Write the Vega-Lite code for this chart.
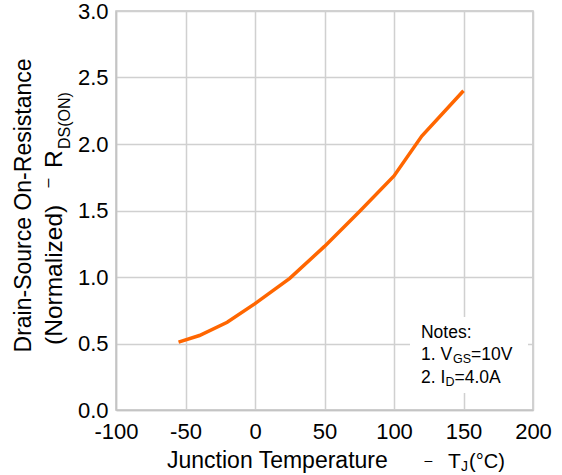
{
  "$schema": "https://vega.github.io/schema/vega-lite/v6.json",
  "autosize": {"type": "none"},
  "padding": {"left": 116, "top": 11, "right": 29, "bottom": 65},
  "width": 417,
  "height": 399,
  "background": "white",
  "view": {"stroke": "#c4c4c4", "strokeWidth": 1.5},
  "config": {
    "font": "Liberation Sans",
    "axis": {
      "grid": true,
      "gridColor": "#d0d0d0",
      "gridWidth": 1.5,
      "domainColor": "#c4c4c4",
      "domainWidth": 1.5,
      "ticks": false,
      "labelFont": "Liberation Sans",
      "labelFontSize": 22,
      "labelColor": "#000000",
      "title": null
    }
  },
  "data": {"values": [{}]},
  "layer": [
    {
      "mark": {"type": "rect", "color": "white"},
      "encoding": {
        "x": {"datum": 111.5, "type": "quantitative", "scale": {"domain": [-100, 200], "nice": false}, "axis": {"values": [-100, -50, 0, 50, 100, 150, 200], "labelPadding": 11, "labelFlush": false, "labelOverlap": false, "labelExpr": "replace(datum.label, '−', '-')"}},
        "x2": {"datum": 196.4},
        "y": {"datum": 0.699, "type": "quantitative", "scale": {"domain": [0, 3], "nice": false}, "axis": {"values": [0, 0.5, 1, 1.5, 2, 2.5, 3], "format": ".1f", "labelPadding": 8, "labelFlush": false, "labelOverlap": false}},
        "y2": {"datum": 0.128}
      }
    },
    {
      "data": {"values": [
        {"temp": -55, "rdson": 0.51},
        {"temp": -40, "rdson": 0.56},
        {"temp": -20, "rdson": 0.66},
        {"temp": 0, "rdson": 0.80},
        {"temp": 25, "rdson": 0.99},
        {"temp": 50, "rdson": 1.23},
        {"temp": 75, "rdson": 1.49},
        {"temp": 100, "rdson": 1.76},
        {"temp": 120, "rdson": 2.06},
        {"temp": 150, "rdson": 2.40}
      ]},
      "mark": {"type": "line", "color": "#ff6600", "strokeWidth": 3.5},
      "encoding": {
        "x": {"field": "temp", "type": "quantitative"},
        "y": {"field": "rdson", "type": "quantitative"}
      }
    },
    {
      "mark": {"type": "text", "text": "Notes:", "fontSize": 17.5, "align": "left", "baseline": "alphabetic"},
      "encoding": {"x": {"datum": 119.4}, "y": {"datum": 0.545}}
    },
    {
      "mark": {"type": "text", "text": "1. V", "fontSize": 17.5, "align": "left", "baseline": "alphabetic"},
      "encoding": {"x": {"datum": 119.4}, "y": {"datum": 0.376}}
    },
    {
      "mark": {"type": "text", "text": "GS", "fontSize": 12.5, "align": "left", "baseline": "alphabetic"},
      "encoding": {"x": {"datum": 142.4}, "y": {"datum": 0.353}}
    },
    {
      "mark": {"type": "text", "text": "=10V", "fontSize": 17.5, "align": "left", "baseline": "alphabetic"},
      "encoding": {"x": {"datum": 155.4}, "y": {"datum": 0.376}}
    },
    {
      "mark": {"type": "text", "text": "2. I", "fontSize": 17.5, "align": "left", "baseline": "alphabetic"},
      "encoding": {"x": {"datum": 119.4}, "y": {"datum": 0.203}}
    },
    {
      "mark": {"type": "text", "text": "D", "fontSize": 12.5, "align": "left", "baseline": "alphabetic"},
      "encoding": {"x": {"datum": 137.0}, "y": {"datum": 0.18}}
    },
    {
      "mark": {"type": "text", "text": "=4.0A", "fontSize": 17.5, "align": "left", "baseline": "alphabetic"},
      "encoding": {"x": {"datum": 143.5}, "y": {"datum": 0.203}}
    },
    {
      "mark": {"type": "text", "text": "Junction Temperature", "fontSize": 23, "align": "left", "baseline": "alphabetic"},
      "encoding": {"x": {"datum": -63.3}, "y": {"datum": -0.436}}
    },
    {
      "mark": {"type": "text", "text": "–", "fontSize": 14, "align": "center", "baseline": "alphabetic"},
      "encoding": {"x": {"datum": 124.8}, "y": {"datum": -0.41}}
    },
    {
      "mark": {"type": "text", "text": "T", "fontSize": 21, "align": "left", "baseline": "alphabetic"},
      "encoding": {"x": {"datum": 138.8}, "y": {"datum": -0.436}}
    },
    {
      "mark": {"type": "text", "text": "J", "fontSize": 14, "align": "left", "baseline": "alphabetic"},
      "encoding": {"x": {"datum": 148.2}, "y": {"datum": -0.459}}
    },
    {
      "mark": {"type": "text", "text": "(°C)", "fontSize": 20, "align": "left", "baseline": "alphabetic"},
      "encoding": {"x": {"datum": 154.0}, "y": {"datum": -0.436}}
    },
    {
      "mark": {"type": "text", "text": "Drain-Source On-Resistance", "fontSize": 23, "align": "center", "baseline": "middle", "angle": 270},
      "encoding": {"x": {"datum": -166.5}, "y": {"datum": 1.538}}
    },
    {
      "mark": {"type": "text", "text": "(Normalized)", "fontSize": 24.5, "align": "left", "baseline": "alphabetic", "angle": 270},
      "encoding": {"x": {"datum": -138.8}, "y": {"datum": 0.489}}
    },
    {
      "mark": {"type": "text", "text": "–", "fontSize": 16, "align": "center", "baseline": "alphabetic", "angle": 270},
      "encoding": {"x": {"datum": -145.3}, "y": {"datum": 1.707}}
    },
    {
      "mark": {"type": "text", "text": "R", "fontSize": 24.5, "align": "left", "baseline": "alphabetic", "angle": 270},
      "encoding": {"x": {"datum": -138.8}, "y": {"datum": 1.82}}
    },
    {
      "mark": {"type": "text", "text": "DS(ON)", "fontSize": 16, "align": "left", "baseline": "alphabetic", "angle": 270},
      "encoding": {"x": {"datum": -133.1}, "y": {"datum": 1.962}}
    }
  ]
}
